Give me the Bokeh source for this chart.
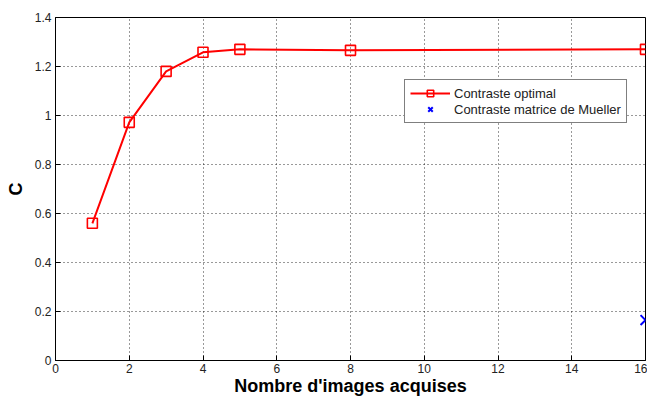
from bokeh.plotting import figure
from bokeh.models import (Legend, LegendItem, FixedTicker, Range1d)
from bokeh.embed import file_html
from bokeh.resources import INLINE

# data
n_images = [1, 2, 3, 4, 5, 8, 16]
contraste_optimal = [0.56, 0.972, 1.18, 1.258, 1.27, 1.266, 1.27]
mueller_x = [16]
mueller_c = [0.165]
x_ticks = [0, 2, 4, 6, 8, 10, 12, 14, 16]
y_ticks = [0, 0.2, 0.4, 0.6, 0.8, 1.0, 1.2, 1.4]
y_labels = {0: "0", 0.2: "0.2", 0.4: "0.4", 0.6: "0.6", 0.8: "0.8", 1.0: "1", 1.2: "1.2", 1.4: "1.4"}

FONT = "Liberation Sans"

p = figure(width=647, height=398, output_backend="svg", toolbar_location=None,
           x_range=Range1d(0, 16), y_range=Range1d(0, 1.4),
           min_border_left=55, min_border_right=2, min_border_top=17, min_border_bottom=38,
           x_axis_label="Nombre d'images acquises", y_axis_label="C")
p.outline_line_color = "black"
p.outline_line_width = 1
p.background_fill_color = "white"
p.border_fill_color = "white"

for ax in (p.xaxis[0], p.yaxis[0]):
    ax.major_tick_in = 5
    ax.major_tick_out = 0
    ax.minor_tick_in = 0
    ax.minor_tick_out = 0
    ax.axis_line_color = "black"
    ax.major_tick_line_color = "black"
    ax.major_label_text_font = FONT
    ax.major_label_text_font_size = "12px"
    ax.major_label_text_color = "#222222"
    ax.axis_label_text_font = FONT
    ax.axis_label_text_font_style = "bold"
    ax.axis_label_text_font_size = "18px"
    ax.axis_label_text_color = "black"
    ax.major_label_standoff = 3
    ax.axis_label_standoff = 0

p.xaxis[0].ticker = FixedTicker(ticks=x_ticks)
p.yaxis[0].ticker = FixedTicker(ticks=y_ticks)
p.yaxis[0].major_label_overrides = y_labels
p.yaxis[0].major_label_standoff = 4
p.yaxis[0].axis_label_standoff = 6

for g in (p.xgrid[0], p.ygrid[0]):
    g.grid_line_color = "black"
    g.grid_line_dash = "1 3"
    g.grid_line_alpha = 0.8
    g.grid_line_width = 1
p.xgrid[0].ticker = FixedTicker(ticks=x_ticks)
p.ygrid[0].ticker = FixedTicker(ticks=y_ticks)

ln = p.line(n_images, contraste_optimal, line_color="red", line_width=2)
sq = p.scatter(n_images, contraste_optimal, marker="square", size=10,
               line_color="red", line_width=1.6, fill_color=None)
xm = p.scatter(mueller_x, mueller_c, marker="x", size=14, line_color="blue", line_width=2)

legend = Legend(items=[LegendItem(label="Contraste optimal", renderers=[ln, sq]),
                       LegendItem(label="Contraste matrice de Mueller", renderers=[xm])],
                location=(349, 237))
legend.border_line_color = "black"
legend.border_line_width = 1
legend.background_fill_alpha = 1
legend.label_text_font = FONT
legend.label_text_font_size = "13px"
legend.label_text_color = "#222222"
legend.glyph_width = 40
legend.glyph_height = 16
legend.label_height = 16
legend.spacing = 0
legend.padding = 5
legend.margin = 0
legend.label_standoff = 4
p.add_layout(legend, "center")

open("out.html", "w").write(file_html(p, INLINE))
